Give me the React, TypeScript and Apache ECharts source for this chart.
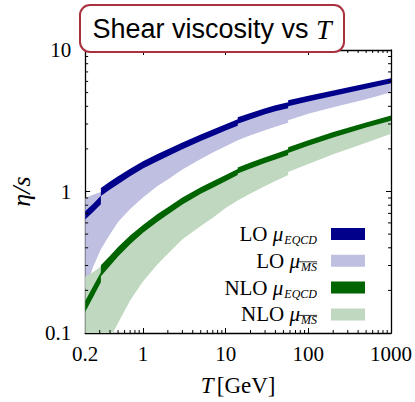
import React, { useEffect, useRef } from "react";
import * as echarts from "echarts";

// Temperature grid T [GeV]; repeated values mark the threshold steps.
const T_GRID = [0.2, 0.25, 0.31, 0.31, 0.4, 0.5, 0.7, 1, 1.5, 2, 3, 5, 7, 10, 14, 14, 20, 30, 40, 57, 57, 100, 200, 500, 1000];

// eta/s bands: lower and upper edge at each T of the grid
const LO_EQCD_LOW = [0.633, 0.715, 0.814, 0.928, 1.031, 1.127, 1.28, 1.454, 1.639, 1.778, 1.986, 2.275, 2.469, 2.693, 2.916, 3.012, 3.245, 3.509, 3.689, 3.873, 4.001, 4.325, 4.728, 5.331, 5.828];
const LO_EQCD_HIGH = [0.725, 0.819, 0.933, 1.06, 1.178, 1.284, 1.447, 1.635, 1.838, 1.992, 2.218, 2.532, 2.746, 2.988, 3.235, 3.341, 3.588, 3.879, 4.067, 4.269, 4.41, 4.751, 5.177, 5.8, 6.32];

const LO_MSBAR_LOW = [0.204, 0.294, 0.391, 0.391, 0.498, 0.61, 0.753, 0.907, 1.093, 1.215, 1.429, 1.694, 1.883, 2.092, 2.305, 2.305, 2.5, 2.711, 2.87, 3.062, 3.188, 3.543, 3.937, 4.481, 5.02];
const LO_MSBAR_HIGH = [0.9, 0.95, 0.99, 0.99, 1.102, 1.203, 1.361, 1.542, 1.735, 1.882, 2.098, 2.4, 2.604, 2.83, 3.07, 3.17, 3.41, 3.69, 3.87, 4.07, 4.2, 4.53, 4.95, 5.56, 6.07];

const NLO_EQCD_LOW = [0.1406, 0.1798, 0.2286, 0.252, 0.2988, 0.3474, 0.4247, 0.5102, 0.6117, 0.6877, 0.81, 0.9634, 1.0635, 1.1838, 1.3069, 1.339, 1.4521, 1.5903, 1.6853, 1.8135, 1.873, 2.1086, 2.4123, 2.8281, 3.1681];
const NLO_EQCD_HIGH = [0.168, 0.2136, 0.2689, 0.3012, 0.3514, 0.4046, 0.4884, 0.5807, 0.6921, 0.7727, 0.9073, 1.0722, 1.1798, 1.309, 1.4398, 1.4757, 1.6005, 1.7471, 1.8459, 1.9861, 2.0511, 2.3014, 2.633, 3.0762, 3.4453];

const NLO_MSBAR_LOW = [0.0403, 0.054, 0.0711, 0.0711, 0.0922, 0.1176, 0.1694, 0.2312, 0.3062, 0.363, 0.4592, 0.5697, 0.6517, 0.7652, 0.8642, 0.8642, 0.9681, 1.0933, 1.1858, 1.3069, 1.372, 1.5622, 1.8368, 2.2137, 2.561];
const NLO_MSBAR_HIGH = [0.25, 0.27, 0.295, 0.295, 0.324, 0.375, 0.455, 0.544, 0.651, 0.729, 0.857, 1.016, 1.12, 1.245, 1.372, 1.406, 1.525, 1.667, 1.764, 1.898, 1.96, 2.203, 2.52, 2.949, 3.304];

// Axis ranges and the minor tick positions on the logarithmic axes
const T_RANGE = [0.2, 1000];
const ETA_RANGE = [0.1, 10];
const X_MINOR = [0.3, 0.4, 0.5, 0.6, 0.7, 0.8, 0.9, 2, 3, 4, 5, 6, 7, 8, 9, 20, 30, 40, 50, 60, 70, 80, 90, 200, 300, 400, 500, 600, 700, 800, 900];
const Y_MINOR = [0.2, 0.3, 0.4, 0.5, 0.6, 0.7, 0.8, 0.9, 2, 3, 4, 5, 6, 7, 8, 9];

const LEGEND = [
  { label: "LO", scale: "EQCD", color: "#00008b" },
  { label: "LO", scale: "MS", color: "#bfbfe2" },
  { label: "NLO", scale: "EQCD", color: "#006400" },
  { label: "NLO", scale: "MS", color: "#bfd8bf" },
];

const SERIF = "'Liberation Serif', 'DejaVu Serif', serif";
const SANS = "'Liberation Sans', 'DejaVu Sans', sans-serif";

function band(name: string, ts: number[], lo: number[], hi: number[], color: string, z: number) {
  return {
    type: "custom",
    name,
    coordinateSystem: "cartesian2d",
    silent: true,
    z,
    data: ts.map((t, i) => [t, lo[i], hi[i]]),
    renderItem: (params: any, api: any) => {
      if (params.dataIndex !== 0) return null;
      const cs = params.coordSys;
      const upper = ts.map((t, i) => api.coord([t, hi[i]]));
      const lower = ts.map((t, i) => api.coord([t, lo[i]])).reverse();
      return {
        type: "polygon",
        shape: { points: upper.concat(lower) },
        style: { fill: color, stroke: null },
        clipPath: { type: "rect", shape: { x: cs.x, y: cs.y, width: cs.width, height: cs.height } },
      };
    },
  };
}

function minorTicks(values: number[], vertical: boolean) {
  return {
    type: "custom",
    coordinateSystem: "cartesian2d",
    silent: true,
    z: 10,
    data: values.map((v) => [v]),
    renderItem: (params: any, api: any) => {
      const cs = params.coordSys;
      const v = api.value(0);
      const st = { stroke: "#000", lineWidth: 1 };
      const len = 3;
      if (vertical) {
        const x = api.coord([v, 1])[0];
        return {
          type: "group",
          children: [
            { type: "line", shape: { x1: x, y1: cs.y + cs.height, x2: x, y2: cs.y + cs.height - len }, style: st },
            { type: "line", shape: { x1: x, y1: cs.y, x2: x, y2: cs.y + len }, style: st },
          ],
        };
      }
      const y = api.coord([1, v])[1];
      return {
        type: "group",
        children: [
          { type: "line", shape: { x1: cs.x, y1: y, x2: cs.x + len, y2: y }, style: st },
          { type: "line", shape: { x1: cs.x + cs.width, y1: y, x2: cs.x + cs.width - len, y2: y }, style: st },
        ],
      };
    },
  };
}

const axisLine = { show: true, lineStyle: { color: "#000", width: 1.3 } };
const axisTick = { show: true, inside: true, length: 5, lineStyle: { color: "#000", width: 1 } };
const plainNumber = (v: number) => String(Number(v.toPrecision(6)));

export default function App() {
  const ref = useRef<HTMLDivElement>(null);

  useEffect(() => {
    if (!ref.current) return;
    const chart = echarts.init(ref.current, undefined, { renderer: "svg" });

    const legendTop = 234;
    const legendStep = 26.8;
    const legendGraphics: any[] = [];
    LEGEND.forEach((item, i) => {
      const y = legendTop + i * legendStep;
      legendGraphics.push({
        type: "text",
        x: 317,
        y,
        z: 100,
        style: {
          text: `{n|${item.label} }{m|μ}{s|${item.scale}}`,
          align: "right",
          verticalAlign: "middle",
          rich: {
            n: { fontFamily: SERIF, fontSize: 21, fill: "#000", lineHeight: 24, verticalAlign: "middle" },
            m: { fontFamily: SERIF, fontSize: 21, fontStyle: "italic", fill: "#000", lineHeight: 24 },
            s: { fontFamily: SERIF, fontSize: 12, fontStyle: "italic", fill: "#000", verticalAlign: "bottom", lineHeight: 24, padding: [0, 0, 0, 1] },
          },
        },
      });
      if (item.scale === "MS") {
        legendGraphics.push({
          type: "line",
          z: 100,
          shape: { x1: 298, y1: y + 1, x2: 317, y2: y + 1 },
          style: { stroke: "#000", lineWidth: 0.8 },
        });
      }
      legendGraphics.push({
        type: "rect",
        z: 100,
        shape: { x: 331, y: y - 6, width: 34, height: 12 },
        style: { fill: item.color },
      });
    });

    chart.setOption({
      animation: false,
      backgroundColor: "#fff",
      grid: { left: 82, right: 24, top: 50, bottom: 68, containLabel: false },
      xAxis: [
        {
          type: "log",
          logBase: 10,
          min: T_RANGE[0],
          max: T_RANGE[1],
          position: "bottom",
          axisLine,
          axisTick,
          splitLine: { show: false },
          axisLabel: { fontFamily: SERIF, fontSize: 21, color: "#000", margin: 10, formatter: plainNumber },
          name: "{i|T} {r|[GeV]}",
          nameLocation: "middle",
          nameGap: 41,
          nameTextStyle: {
            rich: {
              i: { fontFamily: SERIF, fontSize: 23, fontStyle: "italic", color: "#000" },
              r: { fontFamily: SERIF, fontSize: 23, color: "#000" },
            },
          },
        },
        {
          type: "log",
          logBase: 10,
          min: T_RANGE[0],
          max: T_RANGE[1],
          position: "top",
          axisLine,
          axisTick,
          splitLine: { show: false },
          axisLabel: { show: false },
        },
      ],
      yAxis: [
        {
          type: "log",
          logBase: 10,
          min: ETA_RANGE[0],
          max: ETA_RANGE[1],
          position: "left",
          axisLine,
          axisTick,
          splitLine: { show: false },
          axisLabel: { fontFamily: SERIF, fontSize: 21, color: "#000", margin: 14, formatter: plainNumber },
          name: "η/s",
          nameLocation: "middle",
          nameRotate: 90,
          nameGap: 43,
          nameTextStyle: { fontFamily: SERIF, fontSize: 26, fontStyle: "italic", color: "#000" },
        },
        {
          type: "log",
          logBase: 10,
          min: ETA_RANGE[0],
          max: ETA_RANGE[1],
          position: "right",
          axisLine,
          axisTick,
          splitLine: { show: false },
          axisLabel: { show: false },
        },
      ],
      graphic: [
        {
          type: "rect",
          z: 100,
          shape: { x: 80, y: 5, width: 264, height: 47, r: 10 },
          style: { fill: "#fff", stroke: "#a8323e", lineWidth: 2 },
        },
        {
          type: "text",
          z: 101,
          x: 212,
          y: 29,
          style: {
            text: "{a|Shear viscosity vs }{b|T}",
            align: "center",
            verticalAlign: "middle",
            rich: {
              a: { fontFamily: SANS, fontSize: 27, fill: "#000" },
              b: { fontFamily: SERIF, fontSize: 28, fontStyle: "italic", fill: "#000" },
            },
          },
        },
        ...legendGraphics,
      ],
      series: [
        band("LO μ MS", T_GRID, LO_MSBAR_LOW, LO_MSBAR_HIGH, LEGEND[1].color, 2),
        band("NLO μ MS", T_GRID, NLO_MSBAR_LOW, NLO_MSBAR_HIGH, LEGEND[3].color, 3),
        band("LO μ EQCD", T_GRID, LO_EQCD_LOW, LO_EQCD_HIGH, LEGEND[0].color, 4),
        band("NLO μ EQCD", T_GRID, NLO_EQCD_LOW, NLO_EQCD_HIGH, LEGEND[2].color, 5),
        minorTicks(X_MINOR, true),
        minorTicks(Y_MINOR, false),
      ],
    });

    return () => chart.dispose();
  }, []);

  return <div ref={ref} style={{ position: "fixed", left: 0, top: 0, width: 415, height: 402 }} />;
}
